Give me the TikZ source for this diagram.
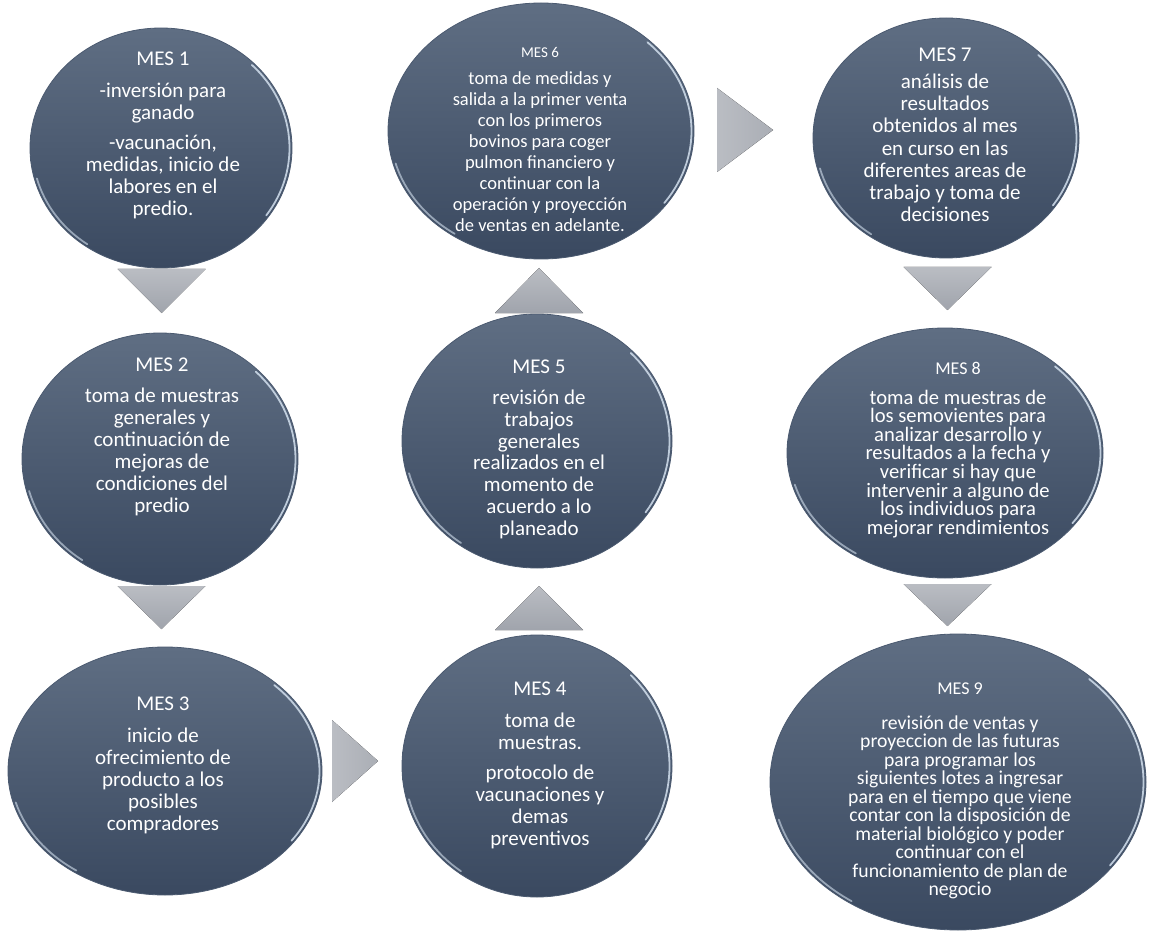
\documentclass[tikz,border=0pt]{standalone}
\usepackage{fontspec}
\setmainfont{Carlito}
\usetikzlibrary{shapes.geometric}
\definecolor{mestop}{HTML}{5F6E83}
\definecolor{mesbot}{HTML}{3A4960}
\definecolor{mesedge}{HTML}{4B5A70}
\definecolor{mesrim}{HTML}{D3E0EE}
\definecolor{trilight}{HTML}{BABDC3}
\definecolor{tridark}{HTML}{A0A4AC}
\tikzset{
  mes/.style={ellipse,draw=mesedge,line width=0.8pt,top color=mestop,bottom color=mesbot,inner sep=0pt},
  mestxt/.style={text=white,align=center,inner sep=0pt},
  rim/.style={mesrim,line width=1.8pt,line cap=round,opacity=0.85},
  tridn/.style={top color=trilight,bottom color=tridark},
  trirt/.style={left color=trilight,right color=tridark!60!trilight},
}
\newcommand{\mesfont}[2]{\fontsize{#1}{#2}\selectfont}
% glossy rim: right side and lower left
\newcommand{\gloss}[3]{%
  \draw[rim] ([shift={(-35:#2 and #3)}]#1.center) arc[start angle=-35,end angle=45,x radius=#2,y radius=#3];
  \draw[rim,opacity=0.6] ([shift={(195:#2 and #3)}]#1.center) arc[start angle=195,end angle=235,x radius=#2,y radius=#3];
}

\begin{document}
\begin{tikzpicture}[x=1pt,y=-1pt]
\fill[white] (0,0) rectangle (1149,936);
\useasboundingbox (0,0) rectangle (1149,936);
%
\node (m1) [mes,minimum width=262pt,minimum height=240pt] at (161,148) {};
\node (m2) [mes,minimum width=276pt,minimum height=252pt] at (160,459) {};
\node (m3) [mes,minimum width=314pt,minimum height=248pt] at (165,771) {};
\node (m4) [mes,minimum width=270pt,minimum height=262pt] at (537,766) {};
\node (m5) [mes,minimum width=270pt,minimum height=254pt] at (537,441) {};
\node (m6) [mes,minimum width=306pt,minimum height=256pt] at (541,131) {};
\node (m7) [mes,minimum width=266pt,minimum height=240pt] at (946,138) {};
\node (m8) [mes,minimum width=316pt,minimum height=250pt] at (945,453) {};
\node (m9) [mes,minimum width=376pt,minimum height=296pt] at (958,782) {};
%
\gloss{m1}{128.5pt}{117.5pt}
\gloss{m2}{135.5pt}{123.5pt}
\gloss{m3}{154.5pt}{121.5pt}
\gloss{m4}{132.5pt}{128.5pt}
\gloss{m5}{132.5pt}{124.5pt}
\gloss{m6}{150.5pt}{125.5pt}
\gloss{m7}{130.5pt}{117.5pt}
\gloss{m8}{155.5pt}{122.5pt}
\gloss{m9}{185.5pt}{145.5pt}
%
\node (t1) [mestxt,font=\mesfont{21}{22}] at (163,135)
  {MES 1\\[10pt]-inversión para\\ganado\\[8pt]-vacunación,\\medidas, inicio de\\labores en el\\predio.};
\node (t2) [mestxt,font=\mesfont{21}{22}] at (162,437)
  {MES 2\\[9pt]toma de muestras\\generales y\\continuación de\\mejoras de\\condiciones del\\predio};
\node (t3) [mestxt,font=\mesfont{21}{22}] at (163,765)
  {MES 3\\[10pt]inicio de\\ofrecimiento de\\producto a los\\posibles\\compradores};
\node (t4) [mestxt,font=\mesfont{21}{22}] at (540,765)
  {MES 4\\[10pt]toma de\\muestras.\\[8pt]protocolo de\\vacunaciones y\\demas\\preventivos};
\node (t5) [mestxt,font=\mesfont{21}{21.7}] at (539,449)
  {MES 5\\[10pt]revisión de\\trabajos\\generales\\realizados en el\\momento de\\acuerdo a lo\\planeado};
\node (t6) [mestxt,font=\mesfont{18.5}{21}] at (540,140)
  {{\mesfont{15}{15}MES 6}\\[6pt]toma de medidas y\\salida a la primer venta\\con los primeros\\bovinos para coger\\pulmon financiero y\\continuar con la\\operación y proyección\\de ventas en adelante.};
\node (t7) [mestxt,font=\mesfont{21}{22.2}] at (945,135)
  {MES 7\\[4.5pt]análisis de\\resultados\\obtenidos al mes\\en curso en las\\diferentes areas de\\trabajo y toma de\\decisiones};
\node (t8) [mestxt,font=\mesfont{20.6}{18.6}] at (958,450)
  {{\mesfont{18}{18}MES 8}\\[11pt]toma de muestras de\\los semovientes para\\analizar desarrollo y\\resultados a la fecha y\\verificar si hay que\\intervenir a alguno de\\los individuos para\\mejorar rendimientos};
\node (t9) [mestxt,font=\mesfont{19.7}{18.5}] at (960,791)
  {{\mesfont{18}{18}MES 9}\\[16pt]revisión de ventas y\\proyeccion de las futuras\\para programar los\\siguientes lotes a ingresar\\para en el tiempo que viene\\contar con la disposición de\\material biológico y poder\\continuar con el\\funcionamiento de plan de\\negocio};
%
% arrows between the months
\coordinate (a12) at (161.5,269);
\coordinate (a23) at (161.5,586);
\coordinate (a34) at (332,761);
\coordinate (a45) at (539,630);
\coordinate (a56) at (539,313);
\coordinate (a67) at (717,130);
\coordinate (a78) at (947.5,267);
\coordinate (a89) at (947.5,584);
\fill[tridn] ([xshift=-44pt]a12) -- ([xshift=44pt]a12) -- ([yshift=-44pt]a12) -- cycle;
\fill[tridn] ([xshift=-44pt]a23) -- ([xshift=44pt]a23) -- ([yshift=-43pt]a23) -- cycle;
\fill[trirt] ([yshift=41pt]a34) -- ([yshift=-41pt]a34) -- ([xshift=46pt]a34) -- cycle;
\fill[tridn] ([xshift=-44pt]a45) -- ([xshift=44pt]a45) -- ([yshift=44pt]a45) -- cycle;
\fill[tridn] ([xshift=-44pt]a56) -- ([xshift=44pt]a56) -- ([yshift=45pt]a56) -- cycle;
\fill[trirt] ([yshift=42pt]a67) -- ([yshift=-42pt]a67) -- ([xshift=56pt]a67) -- cycle;
\fill[tridn] ([xshift=-44pt]a78) -- ([xshift=44pt]a78) -- ([yshift=-43pt]a78) -- cycle;
\fill[tridn] ([xshift=-44pt]a89) -- ([xshift=44pt]a89) -- ([yshift=-42pt]a89) -- cycle;
\end{tikzpicture}
\end{document}
